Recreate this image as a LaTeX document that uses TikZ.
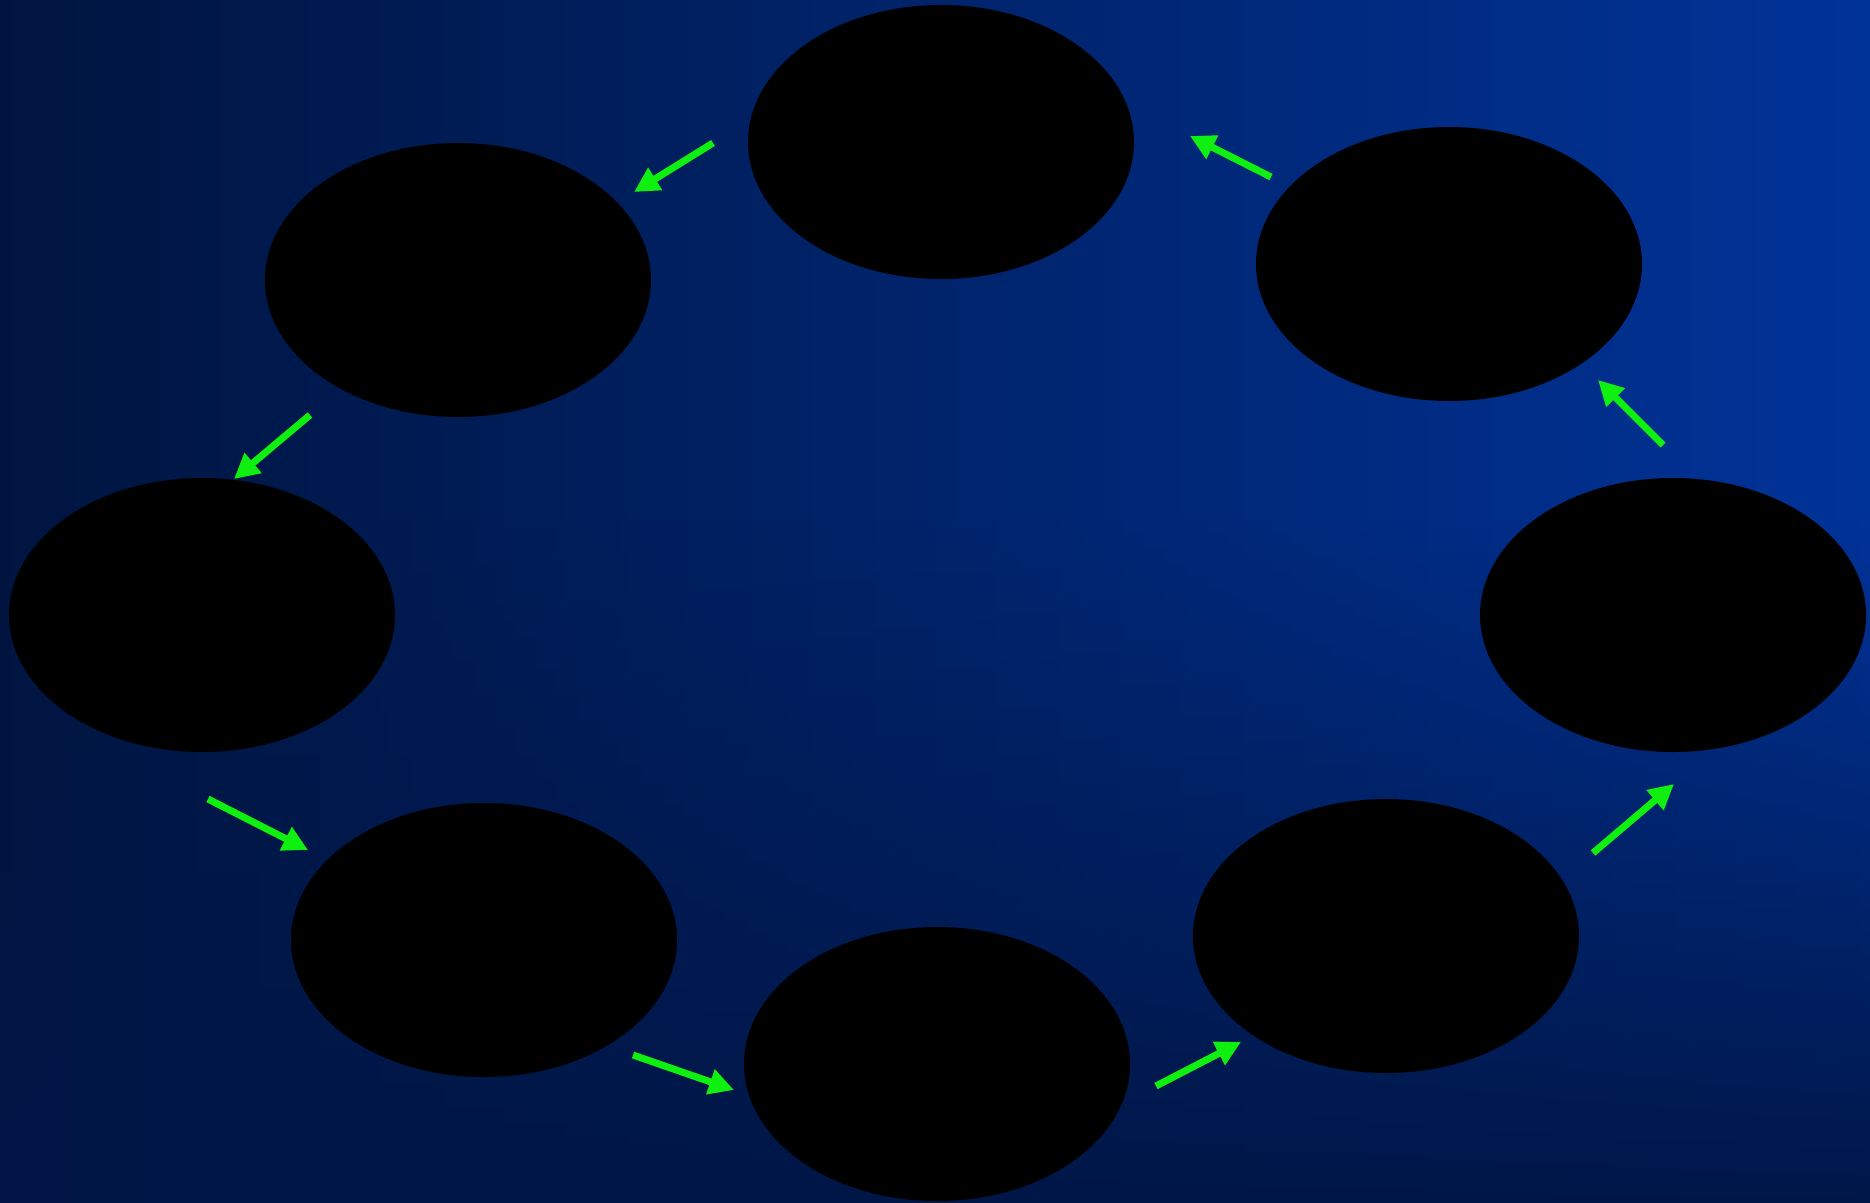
\documentclass[tikz,border=0pt]{standalone}
\usetikzlibrary{arrows.meta,shapes.geometric,fadings}
\definecolor{bgL}{RGB}{0,20,62}
\definecolor{bgR}{RGB}{0,51,153}
\definecolor{bgB}{RGB}{0,22,70}
\definecolor{arrowgreen}{RGB}{16,240,16}
\tikzset{
  stage/.style={ellipse, fill=black, draw=none, inner sep=0pt,
    minimum width=386pt, minimum height=274pt},
  flow/.style={draw=arrowgreen, line width=7pt,
    -{Triangle[length=25pt,width=25pt]}}
}
\begin{document}
\begin{tikzpicture}[x=1pt,y=-1pt]
\useasboundingbox (0,0) rectangle (1870,1202);
\shade[left color=bgL, right color=bgR] (-20,-20) rectangle (1890,1222);
\fill[bgB, path fading=north] (-20,520) rectangle (1890,1222);

\node[stage] (top) at (941,142) {};
\node[stage] (ul) at (458,280) {};
\node[stage] (left) at (202,615) {};
\node[stage] (ll) at (484,940) {};
\node[stage] (bottom) at (937,1064) {};
\node[stage] (lr) at (1386,936) {};
\node[stage] (right) at (1673,615) {};
\node[stage] (ur) at (1449,264) {};

\coordinate (a1) at (713,143);  \coordinate (a2) at (634,192);
\coordinate (b1) at (310,415);  \coordinate (b2) at (234,479);
\coordinate (c1) at (208,799);  \coordinate (c2) at (308,850);
\coordinate (d1) at (633,1055); \coordinate (d2) at (734,1090);
\coordinate (e1) at (1156,1086);\coordinate (e2) at (1241,1042);
\coordinate (f1) at (1593,853); \coordinate (f2) at (1674,784);
\coordinate (g1) at (1663,445); \coordinate (g2) at (1598,380);
\coordinate (h1) at (1271,177); \coordinate (h2) at (1190,136);

\draw[flow] (a1) -- (a2);
\draw[flow] (b1) -- (b2);
\draw[flow] (c1) -- (c2);
\draw[flow] (d1) -- (d2);
\draw[flow] (e1) -- (e2);
\draw[flow] (f1) -- (f2);
\draw[flow] (g1) -- (g2);
\draw[flow] (h1) -- (h2);
\end{tikzpicture}
\end{document}
